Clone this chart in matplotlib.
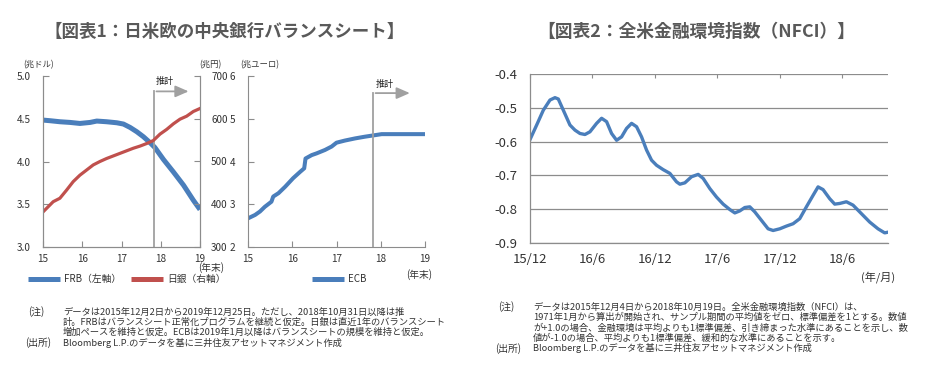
import matplotlib
matplotlib.use('Agg')
import matplotlib.pyplot as plt
from matplotlib.lines import Line2D

plt.rcParams['font.family'] = ['Noto Sans CJK JP', 'DejaVu Sans']

# ---- chart 1: FRB / BOJ / ECB balance sheets (x = year-end, decimal) ----
frb_x = [15.01, 15.18, 15.43, 15.69, 15.94, 16.20, 16.37, 16.62, 16.88, 17.05,
         17.22, 17.39, 17.56, 17.73, 17.85, 18.07, 18.32, 18.58, 18.83, 19.0]
frb_y = [4.484, 4.477, 4.465, 4.457, 4.445, 4.457, 4.473, 4.465, 4.453, 4.438,
         4.398, 4.348, 4.289, 4.219, 4.164, 4.023, 3.879, 3.723, 3.547, 3.438]

boj_x = [15.0, 15.13, 15.26, 15.43, 15.6, 15.77, 15.94, 16.11, 16.28, 16.45,
         16.62, 16.79, 16.96, 17.13, 17.3, 17.47, 17.64, 17.81, 17.98, 18.15,
         18.32, 18.49, 18.66, 18.83, 19.0]
boj_y = [382, 394, 406, 414, 433, 453, 468, 480, 492, 500,
         507, 513, 519, 525, 531, 536, 542, 549, 564, 575,
         588, 599, 606, 617, 624]

ecb_x = [15.0, 15.16, 15.27, 15.38, 15.53, 15.57, 15.69, 15.84, 16.02, 16.18,
         16.27, 16.30, 16.44, 16.55, 16.74, 16.89, 17.0, 17.19, 17.42, 17.64,
         17.83, 18.02, 18.32, 18.70, 19.0]
ecb_y = [2.67, 2.75, 2.83, 2.94, 3.06, 3.18, 3.26, 3.41, 3.61, 3.76,
         3.84, 4.07, 4.15, 4.19, 4.27, 4.35, 4.44, 4.49, 4.54, 4.58,
         4.61, 4.64, 4.64, 4.64, 4.64]

year_ticks = [15, 16, 17, 18, 19]
est_start = 17.83  # 2018/10/31

# ---- chart 2: NFCI (x = months since 2015/12/4) ----
nfci_m = [0, 0.64, 1.28, 1.92, 2.4, 2.72, 3.2, 3.84, 4.32, 4.8,
          5.28, 5.76, 6.4, 6.88, 7.36, 7.84, 8.32, 8.8, 9.28, 9.76,
          10.24, 10.72, 11.2, 11.68, 12.16, 12.8, 13.44, 14.08, 14.4, 14.88,
          15.52, 16.16, 16.64, 17.28, 17.92, 18.56, 19.2, 19.68, 20.16, 20.64,
          21.12, 21.6, 22.24, 22.88, 23.36, 24.0, 24.64, 25.28, 25.92, 26.56,
          27.2, 27.68, 28.16, 28.8, 29.28, 29.76, 30.4, 31.04, 31.84, 32.64,
          33.44, 34.08, 34.4]
nfci_v = [-0.594, -0.551, -0.507, -0.477, -0.470, -0.474, -0.507, -0.551, -0.566, -0.576,
          -0.579, -0.571, -0.546, -0.531, -0.541, -0.576, -0.596, -0.586, -0.561, -0.546,
          -0.556, -0.586, -0.625, -0.655, -0.670, -0.683, -0.694, -0.719, -0.726, -0.722,
          -0.704, -0.697, -0.709, -0.739, -0.764, -0.785, -0.801, -0.811, -0.805, -0.795,
          -0.793, -0.808, -0.833, -0.858, -0.863, -0.858, -0.850, -0.843, -0.828, -0.793,
          -0.759, -0.734, -0.742, -0.769, -0.785, -0.783, -0.778, -0.788, -0.813, -0.838,
          -0.858, -0.870, -0.868]
nfci_ticks = [0, 6, 12, 18, 24, 30]
nfci_labels = ['15/12', '16/6', '16/12', '17/6', '17/12', '18/6']

BLUE = '#4A7EBB'
RED = '#C0504D'
AXC = '#8C8C8C'
TXT = '#333333'
W, H = 927, 373

fig = plt.figure(figsize=(W / 100, H / 100), dpi=100)


def box(l, t, r, b):
    return [l / W, 1 - b / H, (r - l) / W, (b - t) / H]


def style(ax, fs=7.2):
    for s in ax.spines.values():
        s.set_color(AXC)
        s.set_linewidth(0.8)
    ax.tick_params(direction='in', length=4, color=AXC, labelsize=fs, labelcolor=TXT, width=0.8)


def estimate_arrow(ax, y0, ytop, xend, ytext):
    ax.plot([est_start, est_start], [y0, ytop], color='#A0A0A0', lw=1.3, clip_on=False)
    ax.annotate('', xy=(xend, ytop), xytext=(est_start - 0.01, ytop),
                arrowprops=dict(arrowstyle='-|>,head_length=0.8,head_width=0.35',
                                color='#A0A0A0', lw=1.3), annotation_clip=False)
    ax.text(18.1, ytext, '推計', fontsize=6.5, ha='center', va='center', color='#222222')


# FRB (left axis) / BOJ (right axis)
ax1 = fig.add_axes(box(43, 76, 200, 247))
style(ax1)
ax1.plot(frb_x, frb_y, color=BLUE, lw=3.6, solid_capstyle='butt')
ax1.set_xlim(15, 19)
ax1.set_ylim(3.0, 5.0)
ax1.set_yticks([3.0, 3.5, 4.0, 4.5, 5.0])
ax1.set_yticklabels(['3.0', '3.5', '4.0', '4.5', '5.0'])
ax1.set_xticks(year_ticks)
ax1.tick_params(axis='y', pad=9)
ax1.tick_params(axis='x', pad=5)
ax1.spines['top'].set_visible(False)
ax1b = ax1.twinx()
style(ax1b)
ax1b.plot(boj_x, boj_y, color=RED, lw=2.3)
ax1b.set_ylim(300, 700)
ax1b.set_yticks([300, 400, 500, 600, 700])
ax1b.tick_params(axis='y', pad=8)
ax1b.spines['top'].set_visible(False)
estimate_arrow(ax1, 3.0, 4.82, 18.78, 4.93)

# ECB
ax2 = fig.add_axes(box(248, 76, 425, 247))
style(ax2)
ax2.plot(ecb_x, ecb_y, color=BLUE, lw=2.9)
ax2.set_xlim(15, 19)
ax2.set_ylim(2, 6)
ax2.set_yticks([2, 3, 4, 5, 6])
ax2.set_xticks(year_ticks)
ax2.tick_params(axis='y', pad=9)
ax2.tick_params(axis='x', pad=5)
ax2.spines['top'].set_visible(False)
ax2.spines['right'].set_visible(False)
estimate_arrow(ax2, 2, 5.60, 18.72, 5.81)

# unit labels
fig.text(23 / W, 1 - 65 / H, '(兆ドル)', fontsize=6, color=TXT, va='center')
fig.text(199 / W, 1 - 65 / H, '(兆円)', fontsize=6, color=TXT, va='center')
fig.text(240 / W, 1 - 65 / H, '(兆ユーロ)', fontsize=6, color=TXT, va='center')
fig.text(198 / W, 1 - 268 / H, '(年末)', fontsize=7, color=TXT, va='center')
fig.text(406 / W, 1 - 275 / H, '(年末)', fontsize=7, color=TXT, va='center')

# legends
h_frb = Line2D([], [], color=BLUE, lw=3.6, solid_capstyle='butt')
h_boj = Line2D([], [], color=RED, lw=3.6, solid_capstyle='butt')
h_ecb = Line2D([], [], color=BLUE, lw=3.6, solid_capstyle='butt')
fig.legend([h_frb, h_boj], ['FRB（左軸）', '日銀（右軸）'], loc='center left',
           bbox_to_anchor=(28 / W, 1 - 279 / H), ncol=2, frameon=False, fontsize=7,
           handlelength=3.3, handletextpad=0.4, columnspacing=1.0, labelcolor=TXT,
           borderaxespad=0, borderpad=0)
fig.legend([h_ecb], ['ECB'], loc='center left',
           bbox_to_anchor=(312 / W, 1 - 279 / H), frameon=False, fontsize=7,
           handlelength=3.3, handletextpad=0.4, labelcolor=TXT,
           borderaxespad=0, borderpad=0)

# NFCI
ax3 = fig.add_axes(box(530, 74, 888, 243))
ax3.plot(nfci_m, nfci_v, color=BLUE, lw=2.4, solid_joinstyle='round')
ax3.set_xlim(0, 34.4)
ax3.set_ylim(-0.9, -0.4)
ax3.set_yticks([-0.9, -0.8, -0.7, -0.6, -0.5, -0.4])
ax3.set_yticklabels(['-0.9', '-0.8', '-0.7', '-0.6', '-0.5', '-0.4'])
ax3.set_xticks(nfci_ticks)
ax3.set_xticklabels(nfci_labels)
ax3.grid(axis='y', color=AXC, lw=0.9)
ax3.set_axisbelow(True)
for s in ['top', 'right']:
    ax3.spines[s].set_visible(False)
for s in ['left', 'bottom']:
    ax3.spines[s].set_color(AXC)
    ax3.spines[s].set_linewidth(0.9)
ax3.tick_params(axis='y', length=0, pad=9, labelsize=9.5, labelcolor=TXT)
ax3.tick_params(axis='x', bottom=False, top=True, labelbottom=True, labeltop=False,
                direction='in', length=3, color=AXC, pad=7, labelsize=9.5, labelcolor=TXT)
fig.text(878 / W, 1 - 277 / H, '(年/月)', fontsize=8, color=TXT, ha='center', va='center')

# titles
fig.text(225 / W, 1 - 32 / H, '【図表1：日米欧の中央銀行バランスシート】', fontsize=12.6,
         fontweight='bold', color='#595959', ha='center', va='center')
fig.text(696 / W, 1 - 32 / H, '【図表2：全米金融環境指数（NFCI）】', fontsize=12.8,
         fontweight='bold', color='#595959', ha='center', va='center')

# notes
note_fs = 6.7
left_notes = [
    'データは2015年12月2日から2019年12月25日。ただし、2018年10月31日以降は推',
    '計。FRBはバランスシート正常化プログラムを継続と仮定。日銀は直近1年のバランスシート',
    '増加ペースを維持と仮定。ECBは2019年1月以降はバランスシートの規模を維持と仮定。',
]
right_notes = [
    'データは2015年12月4日から2018年10月19日。全米金融環境指数（NFCI）は、',
    '1971年1月から算出が開始され、サンプル期間の平均値をゼロ、標準偏差を1とする。数値',
    'が+1.0の場合、金融環境は平均よりも1標準偏差、引き締まった水準にあることを示し、数',
    '値が-1.0の場合、平均よりも1標準偏差、緩和的な水準にあることを示す。',
]
source = 'Bloomberg L.P.のデータを基に三井住友アセットマネジメント作成'

y = 312
fig.text(28 / W, 1 - y / H, '(注)', fontsize=7, color=TXT, va='center')
for line in left_notes:
    fig.text(63 / W, 1 - y / H, line, fontsize=note_fs, color=TXT, va='center')
    y += 10.3
fig.text(25 / W, 1 - y / H, '(出所)', fontsize=7, color=TXT, va='center')
fig.text(63 / W, 1 - y / H, source, fontsize=note_fs, color=TXT, va='center')

y = 307
fig.text(498 / W, 1 - y / H, '(注)', fontsize=7, color=TXT, va='center')
for line in right_notes:
    fig.text(533 / W, 1 - y / H, line, fontsize=note_fs, color=TXT, va='center')
    y += 10.3
fig.text(495 / W, 1 - y / H, '(出所)', fontsize=7, color=TXT, va='center')
fig.text(533 / W, 1 - y / H, source, fontsize=note_fs, color=TXT, va='center')

fig.savefig('out.png', dpi=100)
